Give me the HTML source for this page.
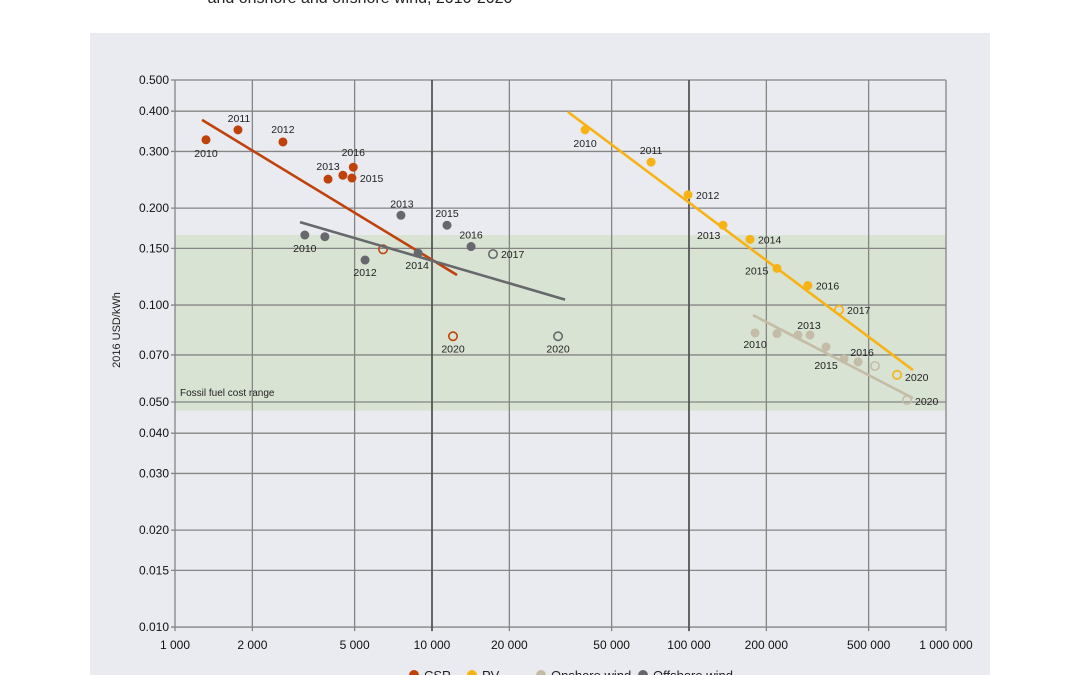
<!DOCTYPE html>
<html><head><meta charset="utf-8"><style>
body{margin:0;background:#fff;font-family:"Liberation Sans",sans-serif;}
svg{display:block}
text{font-family:"Liberation Sans",sans-serif;}
</style></head><body>
<svg id="c" width="1080" height="675" xmlns="http://www.w3.org/2000/svg">
<text x="360" y="3" text-anchor="middle" font-size="16" fill="#222">and onshore and offshore wind, 2010-2020</text>
<rect x="90" y="33" width="900" height="642" fill="#e9ebf0"/>
<g id="g"></g>
</svg>
<script>
const xTicks=[1000,2000,5000,10000,20000,50000,100000,200000,500000,1000000];
const xTickLabels=["1 000","2 000","5 000","10 000","20 000","50 000","100 000","200 000","500 000","1 000 000"];
const yTicks=[0.5,0.4,0.3,0.2,0.15,0.1,0.07,0.05,0.04,0.03,0.02,0.015,0.01];
const yTickLabels=["0.500","0.400","0.300","0.200","0.150","0.100","0.070","0.050","0.040","0.030","0.020","0.015","0.010"];
const fossilRange=[0.047,0.165];
const cspX=[1320,1758,2630,3940,4500,4880,4940];
const cspY=[0.326,0.35,0.321,0.246,0.253,0.248,0.268];
const cspYears=["2010","2011","2012","2013","","2015","2016"];
const cspOpenX=[6450,12070];
const cspOpenY=[0.149,0.080];
const cspOpenYears=["","2020"];
const cspTrendX=[1274,12510];
const cspTrendY=[0.376,0.124];
const offX=[3200,3830,5490,7570,8830,11440,14190];
const offY=[0.165,0.163,0.138,0.190,0.145,0.177,0.152];
const offYears=["2010","","2012","2013","2014","2015","2016"];
const offOpenX=[17270,30940];
const offOpenY=[0.144,0.080];
const offOpenYears=["2017","2020"];
const offTrendX=[3065,32940];
const offTrendY=[0.181,0.104];
const pvX=[39400,71200,99100,135600,172700,220000,290000];
const pvY=[0.35,0.278,0.220,0.177,0.160,0.130,0.115];
const pvYears=["2010","2011","2012","2013","2014","2015","2016"];
const pvOpenX=[383500,645000];
const pvOpenY=[0.0966,0.0607];
const pvOpenYears=["2017","2020"];
const pvTrendX=[33800,744000];
const pvTrendY=[0.398,0.0628];
const onX=[180700,220000,265500,295600,341300,401000,455000];
const onY=[0.0819,0.0815,0.0807,0.0807,0.0741,0.0680,0.0666];
const onYears=["2010","","2013","","","2015","2016"];
const onOpenX=[529000,705000];
const onOpenY=[0.0647,0.0507];
const onOpenYears=["","2020"];
const onTrendX=[177400,744000];
const onTrendY=[0.0931,0.0514];

const X0=175,XD=257,Y0=80,YD=322;
function sx(v){return X0+XD*Math.log10(v/1000);}
function sy(v){return Y0+YD*(Math.log10(0.5)-Math.log10(v));}
const NS="http://www.w3.org/2000/svg";
const g=document.getElementById('g');
function mk(t,a){const e=document.createElementNS(NS,t);for(const k in a)e.setAttribute(k,a[k]);g.appendChild(e);return e;}

let band=mk('rect',{x:sx(1000),y:sy(fossilRange[1]),width:sx(1000000)-sx(1000),height:sy(fossilRange[0])-sy(fossilRange[1]),fill:'#d8e3d3'});


let bl=mk('text',{x:180,y:396,'font-size':10,fill:'#222'});bl.textContent='Fossil fuel cost range';



yTicks.forEach((v,i)=>{
 let l=mk('line',{x1:sx(1000)-4,x2:sx(1000000),y1:sy(v),y2:sy(v),stroke:'#858585','stroke-width':1.3});
 
 
 let t=mk('text',{x:sx(1000)-6,y:sy(v)+4,'text-anchor':'end','font-size':12,fill:'#111'});t.textContent=yTickLabels[i];
 
 
});
xTicks.forEach((v,i)=>{
 const dec=(v===10000||v===100000);
 let l=mk('line',{x1:sx(v),x2:sx(v),y1:sy(0.5),y2:sy(0.01)+4,stroke:dec?'#555':'#858585','stroke-width':dec?1.8:1.3});
 
 
 let t=mk('text',{x:sx(v),y:649,'text-anchor':'middle','font-size':12,fill:'#111'});t.textContent=xTickLabels[i];
 
 
});
let yt=mk('text',{x:0,y:0,'font-size':11,fill:'#222','text-anchor':'middle',transform:'translate(120,330) rotate(-90)'});yt.textContent='2016 USD/kWh';



function series(name,col,xs,ys,yrs,oxs,oys,oyrs,tx,ty,lab){
 let ln=mk('line',{x1:sx(tx[0]),y1:sy(ty[0]),x2:sx(tx[1]),y2:sy(ty[1]),stroke:col,'stroke-width':2.6});
 
 
 xs.forEach((x,i)=>{
  let c=mk('circle',{cx:sx(x),cy:sy(ys[i]),r:4.5,fill:col});
  
  
  if(yrs[i]){const o=lab[i]||[0,-8,'middle'];let t=mk('text',{x:sx(x)+o[0],y:sy(ys[i])+o[1],'font-size':10.5,fill:'#222','text-anchor':o[2]});t.textContent=yrs[i];
  
  }
 });
 oxs.forEach((x,i)=>{
  let c=mk('circle',{cx:sx(x),cy:sy(oys[i]),r:4.2,fill:'none',stroke:col,'stroke-width':1.6});
  
  
  if(oyrs[i]){const o=lab[7+i]||[8,4,'start'];let t=mk('text',{x:sx(x)+o[0],y:sy(oys[i])+o[1],'font-size':10.5,fill:'#222','text-anchor':o[2]});t.textContent=oyrs[i];
  
  }
 });
}
series('csp','#c0420b',cspX,cspY,cspYears,cspOpenX,cspOpenY,cspOpenYears,cspTrendX,cspTrendY,
 [[0,17,'middle'],[1,-8,'middle'],[0,-9,'middle'],[0,-9,'middle'],null,[8,4,'start'],[0,-11,'middle'],null,[0,16,'middle']]);
series('offshore','#66686c',offX,offY,offYears,offOpenX,offOpenY,offOpenYears,offTrendX,offTrendY,
 [[0,17,'middle'],null,[0,16,'middle'],[1,-8,'middle'],[-1,16,'middle'],[0,-8,'middle'],[0,-8,'middle'],[8,4,'start'],[0,16,'middle']]);
series('pv','#f7b316',pvX,pvY,pvYears,pvOpenX,pvOpenY,pvOpenYears,pvTrendX,pvTrendY,
 [[0,17,'middle'],[0,-8,'middle'],[8,4,'start'],[-26,14,'start'],[8,4,'start'],[-32,6,'start'],[8,4,'start'],[8,4,'start'],[8,6,'start']]);
series('onshore','#c5bca7',onX,onY,onYears,onOpenX,onOpenY,onOpenYears,onTrendX,onTrendY,
 [[0,15,'middle'],null,[11,-6,'middle'],null,null,[-18,10,'middle'],[4,-6,'middle'],null,[8,5,'start']]);

const legCols=['#c0420b','#f7b316','#c5bca7','#66686c'];
const legNames=['CSP','PV','Onshore wind','Offshore wind'];
const legX=[414,472,541,643];
legNames.forEach((n,i)=>{
 let c=mk('circle',{cx:legX[i],cy:675,r:5,fill:legCols[i]});
 
 
 let t=mk('text',{x:legX[i]+10,y:680,'font-size':13,fill:'#222'});t.textContent=n;
 
 
});
</script>
</body></html>
